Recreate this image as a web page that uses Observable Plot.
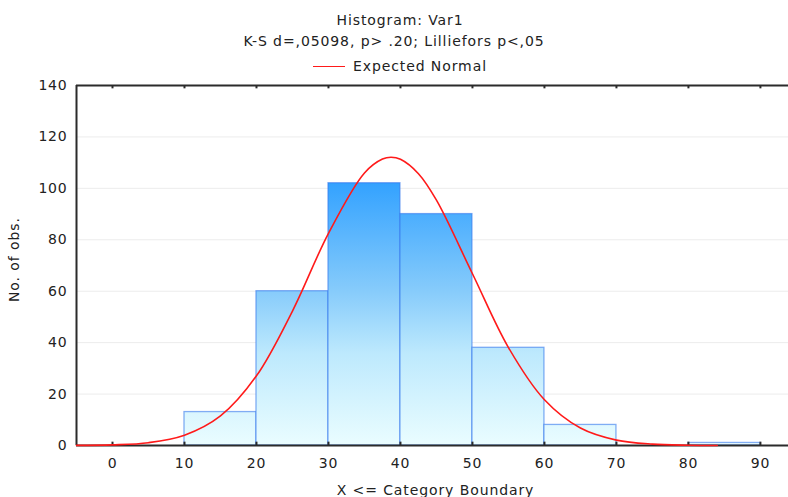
<!DOCTYPE html>
<html>
<head>
<meta charset="utf-8">
<script src="https://cdn.jsdelivr.net/npm/d3@7"></script>
<script src="https://cdn.jsdelivr.net/npm/@observablehq/plot@0.6"></script>
<style>
  html, body { margin: 0; padding: 0; background: #fff; }
  #wrap { position: relative; width: 788px; height: 497px; overflow: hidden; font-family: "DejaVu Sans", sans-serif; color: #222; }
  #wrap svg { position: absolute; left: 0; top: 0; }
  .t { position: absolute; font-size: 14px; line-height: 14px; letter-spacing: 0.9px; white-space: nowrap; }
  .c { left: 0; width: 800px; text-align: center; }
</style>
</head>
<body>
<div id="wrap">
  <div class="t c" style="top:13px;">Histogram: Var1</div>
  <div class="t c" style="top:34px;left:-6px;">K-S d=,05098, p&gt; .20; Lilliefors p&lt;,05</div>
  <div class="t" style="top:59px;left:313px;"><span style="display:inline-block;width:32px;height:0;border-top:1.5px solid #ff1a1a;vertical-align:middle;margin-right:8px;position:relative;top:-1px;"></span>Expected Normal</div>
  <div class="t" style="top:483px;left:0;width:871px;text-align:center;">X &lt;= Category Boundary</div>
  <div class="t" style="top:259px;left:-22px;width:72px;text-align:center;transform:rotate(-90deg);">No. of obs.</div>
</div>
<script>
// Histogram bins (lower / upper boundary) and counts
const binLo = [10, 20, 30, 40, 50, 60, 70, 80];
const binHi = [20, 30, 40, 50, 60, 70, 80, 90];
const counts = [13, 60, 102, 90, 38, 8, 0, 1];

// Expected normal curve
const curveX = [-5, 0, 5, 10, 15, 20, 25, 30, 35, 37.5, 38.7, 40, 42.5, 45, 50, 55, 60, 65, 70, 75, 80, 84];
const curveY = [0.05, 0.26, 1.1, 4.0, 11.5, 27.1, 52.3, 82.5, 106, 111.4, 112.1, 111.3, 105.7, 95.4, 66.8, 38.1, 17.8, 6.8, 2.1, 0.53, 0.11, 0.02];

// Tick labels
const xTicks = [0, 10, 20, 30, 40, 50, 60, 70, 80, 90];
const yTicks = [0, 20, 40, 60, 80, 100, 120, 140];

const bins = binLo.map((lo, i) => ({lo, hi: binHi[i], count: counts[i]}));
const curve = curveX.map((x, i) => ({x, y: curveY[i]}));
const xMin = -5, xMax = 93.9, yMax = 140;
const axisColor = "#2b2b2b";

const chart = Plot.plot({
  width: 788,
  height: 497,
  marginTop: 85,
  marginBottom: 52,
  marginLeft: 76,
  marginRight: 0,
  x: {domain: [xMin, xMax]},
  y: {domain: [0, yMax]},
  style: {fontFamily: "DejaVu Sans, sans-serif", fontSize: "14px", color: "#222", letterSpacing: "0.8px", background: "transparent"},
  marks: [
    Plot.gridY(yTicks.filter(v => v > 0 && v < yMax), {stroke: "#ececec", strokeOpacity: 1}),
    Plot.rectY(bins, {x1: "lo", x2: "hi", y: "count", fill: "url(#barGrad)", stroke: "#3578ec", strokeOpacity: 0.6, strokeWidth: 1.3}),
    Plot.ruleY([0], {stroke: axisColor, strokeWidth: 2}),
    Plot.ruleY([yMax], {stroke: axisColor, strokeWidth: 2}),
    Plot.ruleX([xMin], {stroke: axisColor, strokeWidth: 2}),
    Plot.ruleX(xTicks, {y1: 0, y2: 1.3, stroke: axisColor, strokeWidth: 2}),
    Plot.ruleX(xTicks, {y1: yMax, y2: yMax - 1.3, stroke: axisColor, strokeWidth: 2}),
    Plot.line(curve, {x: "x", y: "y", stroke: "#ff1a1a", strokeWidth: 1.6, curve: "catmull-rom"}),
    Plot.axisY(yTicks, {tickSize: 0, tickPadding: 9, label: null}),
    Plot.axisX(xTicks, {tickSize: 0, tickPadding: 13, label: null})
  ]
});

// vertical gradient tied to the y scale (value 0 -> pale, tallest bar -> saturated blue)
const ys = chart.scale("y");
const defs = d3.select(chart).insert("defs", ":first-child");
const g = defs.append("linearGradient")
  .attr("id", "barGrad")
  .attr("gradientUnits", "userSpaceOnUse")
  .attr("x1", 0).attr("x2", 0)
  .attr("y1", ys.apply(0))
  .attr("y2", ys.apply(d3.max(counts)));
g.append("stop").attr("offset", "0%").attr("stop-color", "#eafdff");
g.append("stop").attr("offset", "35%").attr("stop-color", "#bde9fd");
g.append("stop").attr("offset", "59%").attr("stop-color", "#86cbfb");
g.append("stop").attr("offset", "100%").attr("stop-color", "#33a2ff");

document.getElementById("wrap").prepend(chart);
</script>
</body>
</html>
